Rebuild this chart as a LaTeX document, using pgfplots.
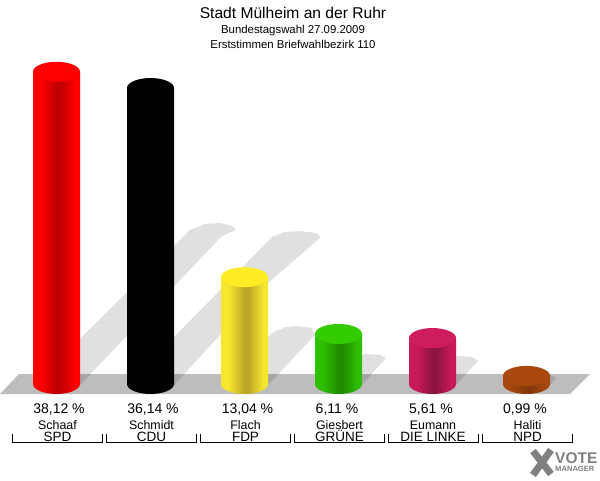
\documentclass[border=0pt]{standalone}
\usepackage{fontspec}
\setmainfont{Liberation Sans}
\usepackage{pgfplots}
\pgfplotsset{compat=1.18}

% one picture pixel = 1pt; x is in pixels, y is in percent
\newcommand{\pxy}[1]{{(384-#1)/8.19}}

% declares colours, body shading and the two end marks of a cylinder
\newcommand{\cyldef}[4]{%
  \definecolor{#1cap}{HTML}{#2}\definecolor{#1edge}{HTML}{#3}\definecolor{#1dark}{HTML}{#4}%
  \pgfdeclarehorizontalshading{#1shade}{100bp}{color(0bp)=(#1edge); color(25bp)=(#1edge);
    color(33bp)=(#1edge); color(50bp)=(#1dark); color(54bp)=(#1dark); color(70bp)=(#1edge); color(75bp)=(#1edge); color(100bp)=(#1edge)}%
  \pgfdeclareplotmark{#1top}{\pgfpathellipse{\pgfpointorigin}{\pgfpoint{23.5pt}{0pt}}{\pgfpoint{0pt}{10pt}}\color{#1cap}\pgfusepath{fill}}%
  \pgfdeclareplotmark{#1base}{\pgfpathellipse{\pgfpointorigin}{\pgfpoint{23.5pt}{0pt}}{\pgfpoint{0pt}{10pt}}\pgfshadepath{#1shade}{0}\pgfusepath{discard}}%
}
\cyldef{spd}{FF0000}{FF0000}{BE0000}
\cyldef{cdu}{000000}{000000}{000000}
\cyldef{fdp}{FFEC24}{F6E62E}{BBA625}
\cyldef{gru}{33CC00}{2EBE00}{1F8C00}
\cyldef{lin}{CF1C5C}{C9195A}{8C1342}
\cyldef{npd}{A9490F}{A5470F}{85390A}

\newcommand{\cyl}[3]{%
  \addplot[only marks, mark=#3base] coordinates {(#1,0)};
  \addplot[ybar, bar width=47pt, bar shift=0pt, draw=none, shade, shading=#3shade] coordinates {(#1,#2)};
  \addplot[only marks, mark=#3top] coordinates {(#1,#2)};
}
\newcommand{\shadow}[1]{%
  \addplot[fill=black, fill opacity=0.12, draw=none] table[row sep=\\, x=px, y expr=(384-\thisrow{py})/8.19] {px py\\ #1\\} -- cycle;
}
% x of the percent label, x of the names, then the three texts
\newcommand{\lab}[5]{%
  \node[anchor=base, inner sep=0pt, font=\fontsize{14}{14}\selectfont] at (axis cs:#1,\pxy{413}) {#3};
  \node[anchor=base, inner sep=0pt, font=\fontsize{12.4}{12.4}\selectfont] at (axis cs:#2,\pxy{429}) {#4};
  \node[anchor=base, inner sep=0pt, font=\fontsize{13.5}{13.5}\selectfont] at (axis cs:#2,\pxy{441}) {#5};
  \draw[black, line width=1pt] (axis cs:#2-45,\pxy{434}) -- (axis cs:#2-45,\pxy{442}) -- (axis cs:#2+45,\pxy{442}) -- (axis cs:#2+45,\pxy{434});
}

\begin{document}
\begin{tikzpicture}
\useasboundingbox (0,0) rectangle (600pt,480pt);
\begin{axis}[
    at={(0,0)}, anchor=south west,
    scale only axis, width=600pt, height=480pt,
    hide axis, clip=false,
    xmin=0, xmax=600,
    ymin=-11.7216, ymax=46.8864,
]
% floor
\addplot[fill=black!26, draw=none] table[row sep=\\, x=px, y expr=(384-\thisrow{py})/8.19]
  {px py\\ 0 394\\ 19 374\\ 590 374\\ 570 394\\} -- cycle;
% shadows
\shadow{80 385\\ 222 236\\ 236 230\\ 232 226\\ 220 223\\ 205 224\\ 190 230\\ 33 385}
\shadow{174 385\\ 268 283\\ 321 237\\ 316 233\\ 300 231\\ 285 232\\ 272 237\\ 127 385}
\shadow{268 385\\ 315 335\\ 312 328\\ 298 326\\ 285 327\\ 272 333\\ 221 385}
\shadow{362 385\\ 386 358\\ 380 355\\ 366 354\\ 355 356\\ 315 385}
\shadow{456 385\\ 478 361\\ 472 357\\ 460 356\\ 449 358\\ 409 385}
\shadow{550 385\\ 556 378\\ 550 375\\ 540 375\\ 503 385}
% cylinders: x pixel, value in percent
\cyl{56.5}{38.12}{spd}
\cyl{150.5}{36.14}{cdu}
\cyl{244.5}{13.04}{fdp}
\cyl{338.5}{6.11}{gru}
\cyl{432.5}{5.61}{lin}
\cyl{526.5}{0.99}{npd}
% titles
\node[anchor=base, inner sep=0pt, font=\fontsize{15.6}{15.6}\selectfont] at (axis cs:293,\pxy{18}) {Stadt Mülheim an der Ruhr};
\node[anchor=base, inner sep=0pt, font=\fontsize{11.4}{11.4}\selectfont] at (axis cs:293,\pxy{33.5}) {Bundestagswahl 27.09.2009};
\node[anchor=base, inner sep=0pt, font=\fontsize{11.4}{11.4}\selectfont] at (axis cs:293,\pxy{48.5}) {Erststimmen Briefwahlbezirk 110};
% labels
\lab{59}{57.5}{38,12 \%}{Schaaf}{SPD}
\lab{153}{151.5}{36,14 \%}{Schmidt}{CDU}
\lab{247.5}{245.5}{13,04 \%}{Flach}{FDP}
\lab{337}{339.5}{6,11 \%}{Giesbert}{GRÜNE}
\lab{431}{433}{5,61 \%}{Eumann}{DIE LINKE}
\lab{525}{527.5}{0,99 \%}{Haliti}{NPD}
% logo
\draw[black!50, line width=7pt] (axis cs:533,\pxy{451}) -- (axis cs:551,\pxy{474});
\draw[black!50, line width=7pt] (axis cs:551,\pxy{450}) -- (axis cs:533,\pxy{475});
\node[anchor=base west, inner sep=0pt, text=black!50, font=\bfseries\fontsize{15.5}{15.5}\selectfont] at (axis cs:555,\pxy{463}) {VOTE};
\node[anchor=base west, inner sep=0pt, text=black!50, font=\bfseries\fontsize{7.6}{7.6}\selectfont] at (axis cs:555,\pxy{471.5}) {MANAGER};
\end{axis}
\end{tikzpicture}
\end{document}
